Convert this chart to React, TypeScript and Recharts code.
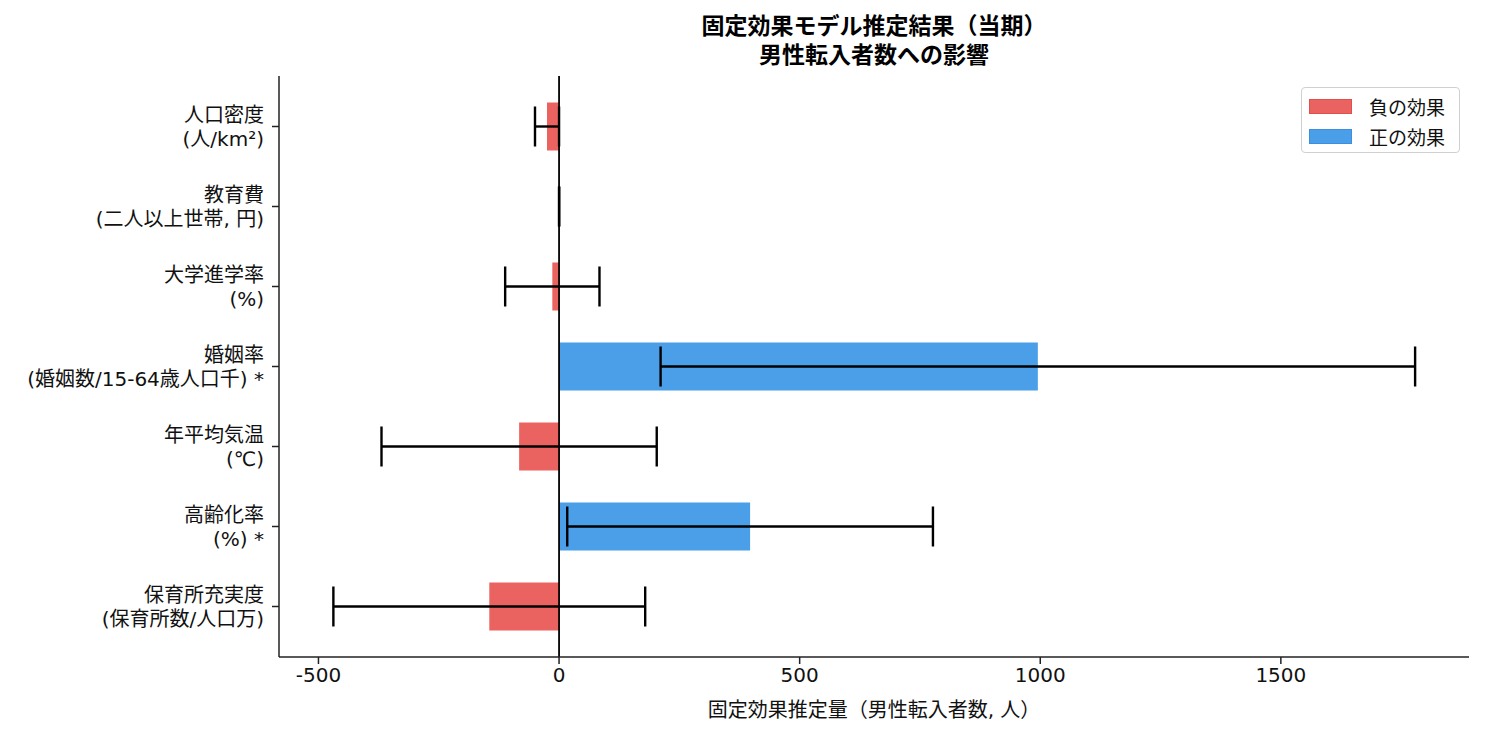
import { BarChart, Bar, XAxis, YAxis, ErrorBar, ReferenceLine, Cell } from 'recharts'

// 変数名（2行表示）
const labelTop = ['人口密度', '教育費', '大学進学率', '婚姻率', '年平均気温', '高齢化率', '保育所充実度']
const labelBottom = ['(人/km²)', '(二人以上世帯, 円)', '(%)', '(婚姻数/15-64歳人口千) *', '(℃)', '(%) *', '(保育所数/人口万)']
// 推定係数と誤差幅（95%CI）
const coefs = [-25, 0.1, -14, 995, -83, 397, -145]
const errors = [25, 0.2, 98, 784, 286, 380, 324]
const xTicks = [-500, 0, 500, 1000, 1500]

const COLOR_NEG = '#EB6360'
const COLOR_POS = '#4A9FE8'
const FONT = '"DejaVu Sans", "Noto Sans CJK JP", sans-serif'
const CJK = '"Noto Sans CJK JP", sans-serif'

const data = labelTop.map((name, i) => ({
  name,
  sub: labelBottom[i],
  coef: coefs[i],
  err: errors[i],
}))

function CategoryTick(props: any) {
  const { x, y, payload } = props
  const row = data.find(d => d.name === payload.value)
  return (
    <g>
      <text x={x - 8} y={y - 10} textAnchor="end" dominantBaseline="middle"
        fontSize={20} fill="#111" fontFamily={FONT}>{payload.value}</text>
      <text x={x - 8} y={y + 14} textAnchor="end" dominantBaseline="middle"
        fontSize={20} fill="#111" fontFamily={FONT}>{row?.sub}</text>
    </g>
  )
}

function LegendBox() {
  const items = [
    { label: '負の効果', fill: COLOR_NEG, edge: '#E04F4B' },
    { label: '正の効果', fill: COLOR_POS, edge: '#3A8FE0' },
  ]
  return (
    <div style={{
      position: 'absolute', left: 1301, top: 87, width: 159, height: 66, boxSizing: 'border-box',
      border: '1px solid #d0d0d0', borderRadius: 4, background: '#fff',
      padding: '3px 0 0 7px', fontFamily: CJK, fontSize: 19, color: '#111',
    }}>
      {items.map(it => (
        <div key={it.label} style={{ display: 'flex', alignItems: 'center', height: 30 }}>
          <span style={{
            display: 'inline-block', width: 43, height: 15, background: it.fill,
            border: `1px solid ${it.edge}`, boxSizing: 'border-box', marginRight: 17,
          }} />
          {it.label}
        </div>
      ))}
    </div>
  )
}

const titleStyle = {
  position: 'absolute' as const, left: 279, width: 1190, textAlign: 'center' as const,
  fontFamily: FONT, fontWeight: 700, fontSize: 23, lineHeight: '26px', color: '#000',
}

export default function App() {
  return (
    <div style={{ position: 'absolute', left: 0, top: 0, width: 1485, height: 735, background: '#fff' }}>
      <div style={{ ...titleStyle, top: 13 }}>固定効果モデル推定結果（当期）</div>
      <div style={{ ...titleStyle, top: 42 }}>男性転入者数への影響</div>
      <BarChart
        width={1485}
        height={735}
        data={data}
        layout="vertical"
        margin={{ top: 76, right: 16, bottom: 48, left: 0 }}
      >
        <XAxis
          type="number"
          domain={[-582, 1891]}
          ticks={xTicks}
          allowDataOverflow
          height={30}
          tick={{ fill: '#111', fontSize: 20, fontFamily: FONT }}
          tickSize={7}
          tickMargin={4}
          stroke="#222"
          strokeWidth={1.5}
        />
        <YAxis
          type="category"
          dataKey="name"
          width={279}
          tick={<CategoryTick />}
          tickSize={7}
          tickMargin={0}
          stroke="#222"
          strokeWidth={1.5}
          padding={{ top: 10.5, bottom: 10.5 }}
          interval={0}
        />
        <Bar dataKey="coef" barSize={48} isAnimationActive={false}>
          {data.map((d, i) => (
            <Cell key={`c-${i}`} fill={d.coef < 0 ? COLOR_NEG : COLOR_POS} />
          ))}
          <ErrorBar dataKey="err" direction="x" width={20} stroke="#000" strokeWidth={2.4} isAnimationActive={false} />
        </Bar>
        <ReferenceLine x={0} stroke="#000" strokeWidth={1.8} />
      </BarChart>
      <div style={{
        position: 'absolute', left: 279, width: 1190, top: 697, textAlign: 'center',
        fontFamily: FONT, fontSize: 20, lineHeight: '26px', color: '#111',
      }}>
        固定効果推定量（男性転入者数, 人）
      </div>
      <LegendBox />
    </div>
  )
}
